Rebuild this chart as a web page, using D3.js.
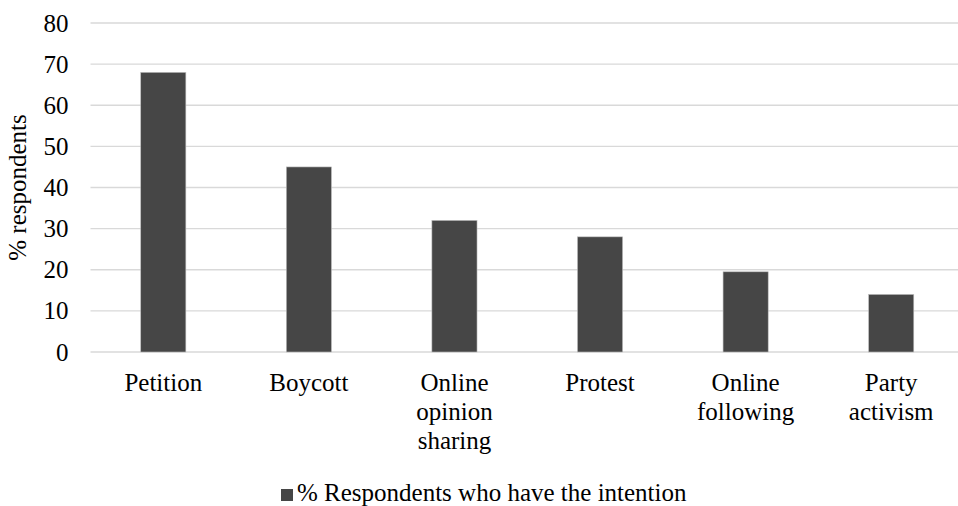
<!DOCTYPE html>
<html>
<head>
<meta charset="utf-8">
<script src="https://cdn.jsdelivr.net/npm/d3@7"></script>
<style>
  body { margin: 0; background: #fff; }
</style>
</head>
<body>
<div id="chart"></div>
<script>
// chart data
var categories = ["Petition", "Boycott", "Online opinion sharing", "Protest", "Online following", "Party activism"];
var categoryLines = [["Petition"], ["Boycott"], ["Online", "opinion", "sharing"], ["Protest"], ["Online", "following"], ["Party", "activism"]];
var intentionValues = [68, 45, 32, 28, 19.5, 14];
var yTicks = [0, 10, 20, 30, 40, 50, 60, 70, 80];
var seriesName = "% Respondents who have the intention";

var serif = "Liberation Serif";
var fontSize = "25px";

var W = 958, H = 506;
var margin = {top: 23, right: -6, bottom: 154, left: 90.5},
    width = W - margin.left - margin.right,
    height = H - margin.top - margin.bottom;

var svg = d3.select("#chart")
    .append("svg")
    .attr("width", W)
    .attr("height", H);

var g = svg.append("g")
    .attr("transform", "translate(" + margin.left + "," + margin.top + ")");

var x = d3.scaleBand()
    .domain(categories)
    .range([0, width])
    .paddingInner(0.69)
    .paddingOuter(0.345);

var y = d3.scaleLinear()
    .domain([0, 80])
    .range([height, 0]);

// gridlines
g.selectAll(".grid")
    .data(yTicks)
    .enter().append("line")
    .attr("class", "grid")
    .attr("x1", 0)
    .attr("x2", width)
    .attr("y1", function(d) { return y(d); })
    .attr("y2", function(d) { return y(d); })
    .attr("stroke", "#d9d9d9")
    .attr("stroke-width", 1.3);

// y axis labels
var yAxis = g.append("g")
    .call(d3.axisLeft(y).tickValues(yTicks).tickSize(0).tickPadding(22));
yAxis.select(".domain").remove();
yAxis.selectAll("text")
    .style("font-family", serif)
    .style("font-size", fontSize)
    .attr("fill", "#000");

// axis title
svg.append("text")
    .attr("transform", "rotate(-90)")
    .attr("x", -(margin.top + height / 2))
    .attr("y", 26)
    .attr("text-anchor", "middle")
    .style("font-family", serif)
    .style("font-size", fontSize)
    .text("% respondents");

// bars
g.selectAll(".bar")
    .data(intentionValues)
    .enter().append("rect")
    .attr("class", "bar")
    .attr("x", function(d, i) { return x(categories[i]); })
    .attr("y", function(d) { return y(d); })
    .attr("width", x.bandwidth())
    .attr("height", function(d) { return height - y(d); })
    .attr("fill", "#464646")
    .attr("stroke", "#bdbdbd")
    .attr("stroke-width", 0.6);

// category labels
var labels = g.selectAll(".cat")
    .data(categories)
    .enter().append("text")
    .attr("class", "cat")
    .attr("text-anchor", "middle")
    .style("font-family", serif)
    .style("font-size", fontSize)
    .attr("transform", function(d) { return "translate(" + (x(d) + x.bandwidth() / 2) + "," + (height + 39) + ")"; });
labels.each(function(d, i) {
    var t = d3.select(this);
    categoryLines[i].forEach(function(line, j) {
        t.append("tspan").attr("x", 0).attr("y", j * 29).text(line);
    });
});

// legend
var legend = svg.append("g").attr("transform", "translate(281,501)");
legend.append("rect")
    .attr("x", 0).attr("y", -12)
    .attr("width", 12).attr("height", 12)
    .attr("fill", "#464646");
legend.append("text")
    .attr("x", 16)
    .attr("y", 0)
    .style("font-family", serif)
    .style("font-size", fontSize)
    .text(seriesName);
</script>
</body>
</html>
